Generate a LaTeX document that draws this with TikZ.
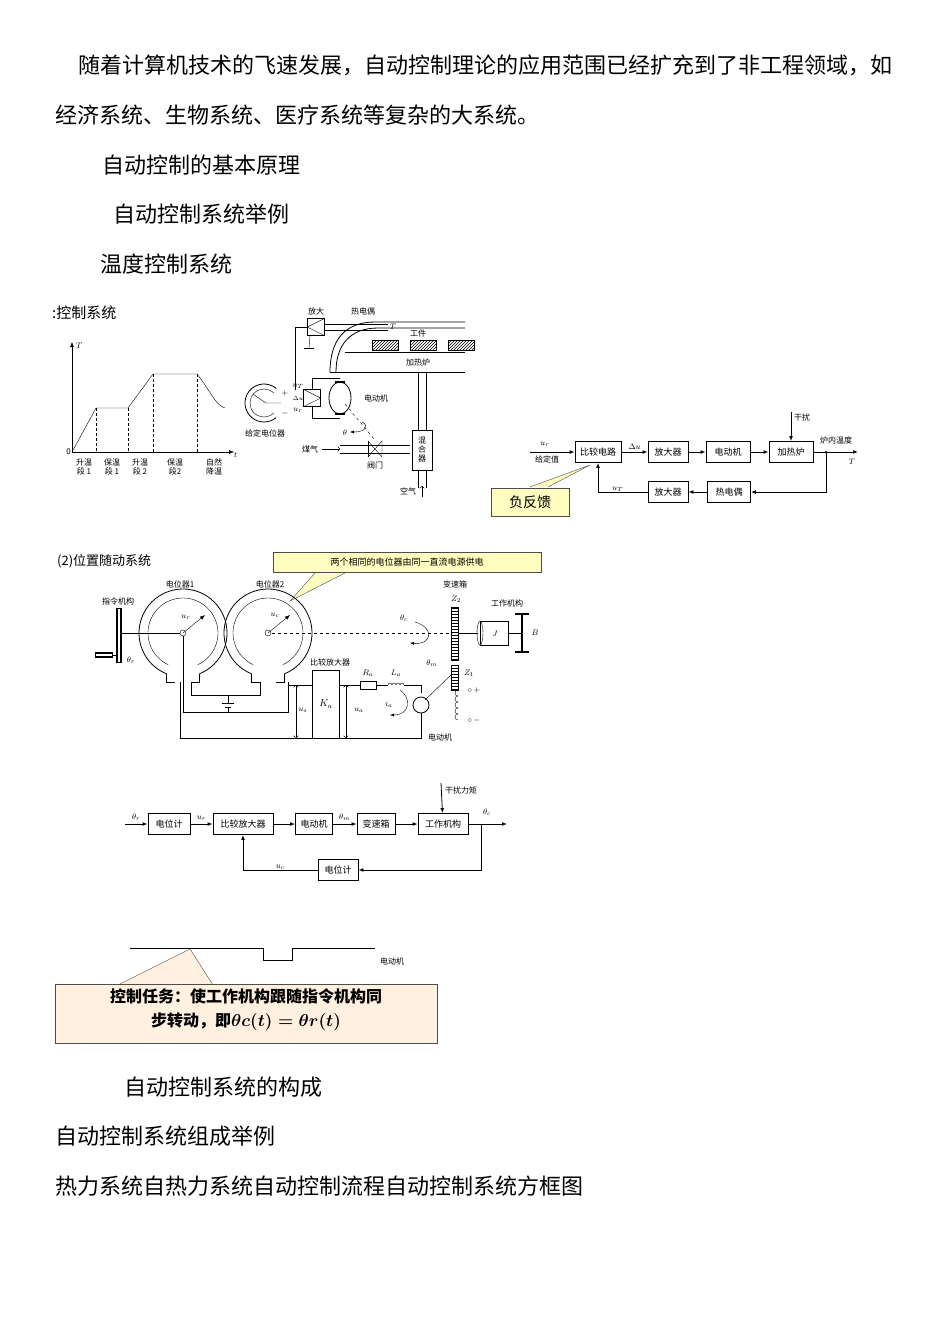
\documentclass[tikz,border=0pt]{standalone}
\usepackage{amsmath}
\usepackage{fontspec}
\setmainfont{Noto Sans CJK SC}
\usetikzlibrary{arrows.meta,patterns,shapes.geometric}
\begin{document}
\begin{tikzpicture}[x=1pt,y=-1pt,
 body/.style={anchor=west,inner sep=0,font=\fontsize{22}{22}\selectfont},
 lbl/.style={inner sep=0,font=\fontsize{8}{9}\selectfont},
 blk/.style={draw,thick,minimum height=21pt,inner sep=1pt,font=\fontsize{9}{9}\selectfont},
 arr/.style={-{Latex[length=5pt]},thick},
 ln/.style={thick},
 callout/.style={draw=black!70,fill=yellow!25,inner sep=3pt}]
\useasboundingbox (0,0) rectangle (950,1344);
% body text
\node[body] (t1) at (78,65) {随着计算机技术的飞速发展，自动控制理论的应用范围已经扩充到了非工程领域，如};
\node[body] (t2) at (55,115) {经济系统、生物系统、医疗系统等复杂的大系统。};
\node[body] (t3) at (102,165) {自动控制的基本原理};
\node[body] (t4) at (113,214) {自动控制系统举例};
\node[body] (t5) at (100,264) {温度控制系统};
\node[body] (t6) at (124,1087) {自动控制系统的构成};
\node[body] (t7) at (55,1136) {自动控制系统组成举例};
\node[body] (t8) at (55,1186) {热力系统自热力系统自动控制流程自动控制系统方框图};
% ---- figure 1 graph
\node[anchor=west,inner sep=0,font=\fontsize{15}{15}\selectfont] (f1t) at (52,313) {:控制系统};
\coordinate (o) at (72,452);
\coordinate (ty) at (72,342);
\coordinate (tx) at (234,452);
\draw[arr,thin] (o) -- (ty);
\draw[arr,thin] (o) -- (tx);
\node[lbl,anchor=west] (Tl) at (76,346) {$T$};
\node[lbl,anchor=west] (tl) at (234,455) {$t$};
\node[lbl,anchor=east] (ol) at (71,452) {0};
\draw (o) -- (96,408) -- (128,408) -- (153,374) -- (197,374) .. controls (210,390) and (215,405) .. (225,408);
\foreach \x/\y in {96/408,128/408,153/374,197/374} \draw[densely dashed,thin] (\x,\y) -- (\x,452);
\node[lbl,align=center] (s1) at (84,467) {升温\\段 1};
\node[lbl,align=center] (s2) at (112,467) {保温\\段 1};
\node[lbl,align=center] (s3) at (140,467) {升温\\段 2};
\node[lbl,align=center] (s4) at (175,467) {保温\\段2};
\node[lbl,align=center] (s5) at (214,467) {自然\\降温};
% ---- schematic
\node[draw,minimum size=17pt,inner sep=0] (amp) at (316,327) {};
\draw (amp.north east) -- (amp.west) -- (amp.south east);
\node[lbl] (ampl) at (316,311) {放大};
\node[lbl] (tcl) at (363,311) {热电偶};
\draw (amp.east) ++(0,-3) -- (388,324);
\draw (amp.east) ++(0,3) -- (388,330);
\node[lbl] (Tt) at (393,327) {$T$};
\draw[thick] (330,372) .. controls (330,340) and (345,322) .. (375,322) -- (465,322);
\draw[thick] (336,372) .. controls (336,345) and (350,328) .. (378,328) -- (465,328);
\draw[thick] (330,372) -- (465,372);
\node[lbl] (wj) at (418,333) {工件};
\foreach \x in {372,410,448} \draw[pattern=north east lines] (\x,340) rectangle ++(26,10);
\draw (345,352) -- (465,352);
\node[lbl] (jrl) at (418,362) {加热炉};
\draw (amp.west) -- (295,327) -- (295,390);
\draw (amp.south) ++(-6,0) -- (309,348);\draw (304,348) -- (314,348);
\node[draw,minimum size=17pt,inner sep=0] (cmp) at (312,398) {};
\draw (cmp.north west) -- (cmp.east) -- (cmp.south west);
\node[lbl] (urT) at (298,386) {$u_T$};
\node[lbl] (du) at (298,398) {$\scriptstyle\Delta u$};
\node[lbl] (urr) at (298,410) {$u_r$};
\node[draw,ellipse,minimum width=22pt,minimum height=32pt,thick] (mot) at (340,398) {};
\draw[line width=2pt] (335,382)--(345,382) (335,414)--(345,414);
\node[lbl] (motl) at (376,398) {电动机};
\draw (cmp.north) |- (340,378);\draw (cmp.south) |- (340,418);
\draw[thick] (264,403) ++(-50:19) arc (-50:-310:19);
\draw (264,403) ++(-45:14) arc (-45:-315:14);
\draw (281,403) -- (266,403) -- (253,394);
\node[lbl] (gdl) at (265,433) {给定电位器};
\node[lbl] (pl) at (285,393) {$+$};\node[lbl] (ml) at (285,413) {$-$};
\draw[dashed] (345,404) -- (375,440);
\draw[-{Latex[length=4pt]}] (362,422) .. controls (370,426) and (365,432) .. (350,432);
\node[lbl] (th) at (345,433) {$\theta$};
\node[lbl] (mq) at (310,449) {煤气};
\draw[->] (322,449) -- (340,449);
\draw (340,445) -- (410,445) (340,453) -- (410,453);
\draw (368,441) -- (382,457) (368,457) -- (382,441) -- (382,457);
\draw (368,441)--(368,457);
\node[lbl] (fm) at (375,465) {阀门};
\draw[thick] (418,372) -- (418,430) (426,372) -- (426,430);
\draw (412,430) rectangle (432,470);
\node[lbl,align=center] (hh) at (422,450) {混\\合\\器};
\draw (418,470) -- (418,488) (426,470) -- (426,488);
\node[lbl] (kq) at (408,491) {空气};
\draw[->] (422,497) -- (422,486);
% ---- block diagram 1
\node[blk,minimum width=46pt] (b1) at (598,452) {比较电路};
\node[blk,minimum width=40pt] (b2) at (668,452) {放大器};
\node[blk,minimum width=44pt] (b3) at (728,452) {电动机};
\node[blk,minimum width=44pt] (b4) at (791,452) {加热炉};
\node[blk,minimum width=43pt] (b5) at (729,492) {热电偶};
\node[blk,minimum width=40pt] (b6) at (668,492) {放大器};
\coordinate (in1) at (530,452);
\coordinate (out1) at (858,452);
\coordinate (br1) at (826,452);
\coordinate (d1) at (791,412);
\draw[arr] (in1) -- (b1);
\node[lbl] (ur1) at (545,444) {$u_r$};
\node[lbl] (gdz) at (547,459) {给定值};
\draw[arr] (b1) -- node[lbl,above=2pt] {$\Delta u$} (b2);
\draw[arr] (b2) -- (b3);
\draw[arr] (b3) -- (b4);
\draw[arr] (b4) -- (out1);
\node[lbl] (lnwd) at (836,440) {炉内温度};
\node[lbl] (T1) at (852,462) {$T$};
\draw[arr] (d1) -- (b4);
\node[lbl,anchor=west] (gr) at (794,417) {干扰};
\draw[arr] (br1) |- (b5);
\draw[arr] (b5) -- (b6);
\draw[arr] (b6) -| node[lbl,pos=0.3,above] {$u_T$} (b1);
\fill[black] (br1) circle (1.2);
\draw[draw=black!70,fill=yellow!25] (530,487) -- (590,465) -- (548,487);
\node[callout,minimum width=78pt,minimum height=28pt,font=\fontsize{14}{14}\selectfont] (fk) at (530,502) {负反馈};
% ---- figure 2 schematic
\node[anchor=west,inner sep=0,font=\fontsize{13}{13}\selectfont] (f2t) at (57,561) {(2)位置随动系统};
\draw[draw=black!70,fill=yellow!25] (315,573) -- (290,601) -- (345,573);
\node[callout,minimum width=268pt,minimum height=20pt,font=\fontsize{9}{9}\selectfont] (cl2) at (407,562) {两个相同的电位器由同一直流电源供电};
\node[lbl] (dw1) at (180,584) {电位器1};
\node[lbl] (dw2) at (270,584) {电位器2};
\node[lbl] (zl) at (118,601) {指令机构};
\draw[pattern=vertical lines] (116,608) rectangle (121,662);
\draw[pattern=horizontal lines] (95,652) rectangle (112,657);
\draw (112,655) -- (116,655);
\node[lbl] (thr) at (131,660) {$\theta_r$};
\foreach \c in {183,268} {
 \draw[thick] (\c,633) ++(112:44) arc (112:428:44);
 \draw (\c,633) ++(115:35) arc (115:425:35);
 \draw (\c,633) ++(112:44) -- ++(0,8) -- ++(8,0);
 \draw (\c,633) ++(68:44) -- ++(0,8) -- ++(-8,0);
}
\draw[thick] (121,633) -- (180,633);
\draw (183,633) circle (3);
\draw[arr,thin] (183,633) -- (205,615);
\node[lbl] (urp) at (186,617) {$u_r$};
\draw (268,633) circle (3);
\draw[arr,thin] (268,633) -- (290,615);
\node[lbl] (ucp) at (275,615) {$u_c$};
\draw[dashed,thick] (272,633) -- (452,633);
\node[lbl] (thc) at (404,618) {$\theta_c$};
\draw[-{Latex[length=4pt]}] (415,622) .. controls (435,628) and (432,645) .. (410,643);
\node[lbl] (bsx) at (455,584) {变速箱};
\node[lbl] (z2) at (456,599) {$Z_2$};
\draw[pattern=horizontal lines] (451,607) rectangle (458,660);
\draw[thick] (458,633) -- (478,633);
\draw (480,621) rectangle (508,645);
\draw (480,633) ellipse (3 and 12);
\node[lbl] (J) at (495,634) {$J$};
\draw[thick] (508,633) -- (522,633);
\draw[line width=2pt] (522,614) -- (522,652) (515,614)--(529,614) (515,652)--(529,652);
\node[lbl] (B) at (535,633) {$B$};
\node[lbl] (gzjg) at (507,603) {工作机构};
\draw[pattern=horizontal lines] (451,665) rectangle (458,690);
\node[lbl] (z1) at (469,673) {$Z_1$};
\node[lbl] (thm) at (432,663) {$\theta_m$};
\node[draw,thick,minimum width=27pt,minimum height=68pt,inner sep=0] (Ka) at (326,704) {$K_a$};
\node[lbl] (bjf) at (330,662) {比较放大器};
\draw (183,636) -- (183,712) -- (288,712) -- (288,682);
\draw (180,682) -- (180,738) -- (Ka.west |- 0,738);
\draw (191,682) -- (191,695) -- (260,695) -- (260,682);
\draw (228,695) -- (228,703) (222,703) -- (234,703) (225,707) -- (231,707) (228,707) -- (228,712);
\draw (288,685) -- (Ka.west |- 0,685);
\draw[<->] (296,685) -- (296,738);
\node[lbl] (us) at (303,710) {$u_s$};
\draw[<->] (346,685) -- (346,738);
\node[lbl] (ua) at (359,710) {$u_a$};
\draw (Ka.east |- 0,685) -- (360,685);
\draw (360,681) rectangle (376,689);
\node[lbl] (Ra) at (368,673) {$R_a$};
\draw (376,685) -- (388,685);
\foreach \i in {0,1,2,3} \draw (388+\i*4,685) arc (180:360:2);
\node[lbl] (La) at (396,673) {$L_a$};
\draw (404,685) -- (421,685) -- (421,693);
\draw[thick] (421,705) circle (8);
\draw (421,713) -- (421,738) -- (Ka.east |- 0,738);
\node[lbl] (ia) at (389,704) {$i_a$};
\draw[-{Latex[length=4pt]}] (400,690) .. controls (412,698) and (410,715) .. (390,715);
\node[lbl] (ddj) at (440,737) {电动机};
\draw (425,700) -- (451,675);
\foreach \i in {0,...,4} \draw (458,690+\i*6) arc (-90:-270:3);
\node[lbl] (plus2) at (474,690) {$\circ\,+$};
\node[lbl] (min2) at (474,720) {$\circ\,-$};
% ---- block diagram 2
\node[blk,minimum width=42pt] (c1) at (169,824) {电位计};
\node[blk,minimum width=60pt] (c2) at (243,824) {比较放大器};
\node[blk,minimum width=37pt] (c3) at (314,824) {电动机};
\node[blk,minimum width=38pt] (c4) at (376,824) {变速箱};
\node[blk,minimum width=50pt] (c5) at (443,824) {工作机构};
\node[blk,minimum width=40pt] (c6) at (338,870) {电位计};
\coordinate (in2) at (125,824);
\coordinate (out2) at (507,824);
\coordinate (br2) at (481,824);
\coordinate (d2) at (441,783);
\draw[arr] (in2) -- node[lbl,above=3pt] {$\theta_r$} (c1);
\draw[arr] (c1) -- node[lbl,above=3pt] {$u_r$} (c2);
\draw[arr] (c2) -- (c3);
\draw[arr] (c3) -- node[lbl,above=3pt] {$\theta_m$} (c4);
\draw[arr] (c4) -- (c5);
\draw[arr] (c5) -- (out2);
\node[lbl] (thc2) at (487,812) {$\theta_c$};
\draw[arr] (d2) -- (c5);
\node[lbl,anchor=west] (grlj) at (445,790) {干扰力矩};
\draw[arr] (br2) |- (c6);
\draw[arr] (c6) -| node[lbl,pos=0.25,above] {$u_c$} (c2);
% ---- bottom fragment
\draw (130,948) -- (263,948) -- (263,960) -- (292,960) -- (292,948) -- (375,948);
\node[lbl] (ddj2) at (392,961) {电动机};
\draw[draw=black!70,fill=orange!12] (118,985) -- (190,949) -- (213,985);
\node[draw=black!70,fill=orange!12,minimum width=382pt,minimum height=59pt,inner sep=0] (task) at (246,1014) {};
\node[align=center,font=\bfseries\fontsize{16}{24}\selectfont] (taskt) at (246,1010) {控制任务：使工作机构跟随指令机构同\\步转动，即$\boldsymbol{\theta c(t)=\theta r(t)}$};
\end{tikzpicture}
\end{document}
